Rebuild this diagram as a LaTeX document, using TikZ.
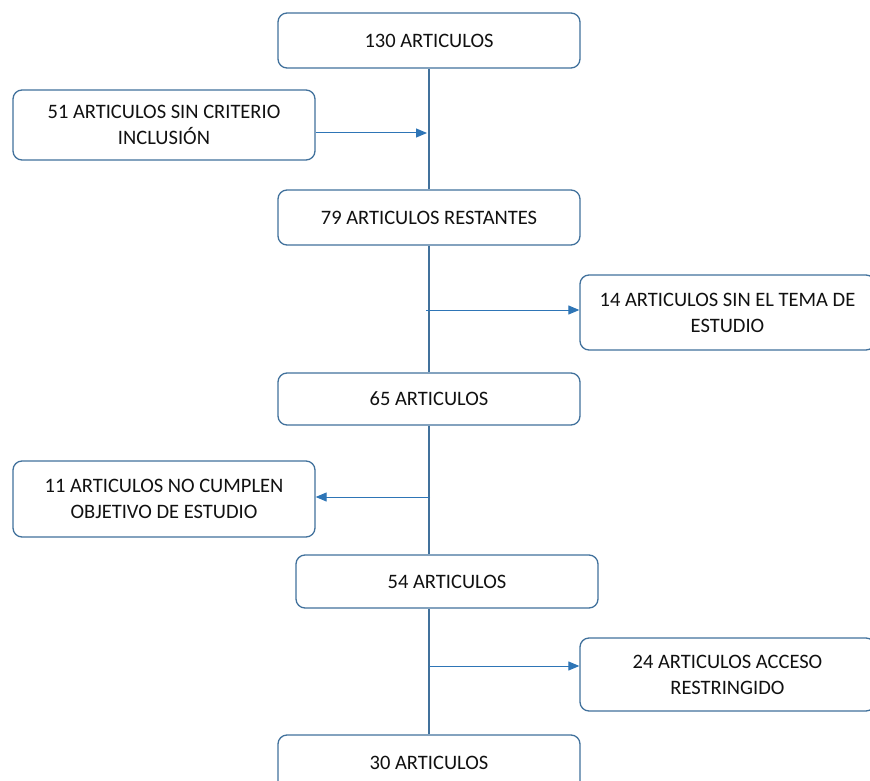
\documentclass[tikz,border=0pt]{standalone}
\usepackage{fontspec}
\setmainfont{Carlito}
\usetikzlibrary{arrows.meta}
\definecolor{bord}{HTML}{41719C}
\definecolor{arr}{HTML}{2E75B6}
\definecolor{txt}{HTML}{111111}
\begin{document}
\begin{tikzpicture}[x=1pt,y=-1pt,
  box/.style={draw=bord, line width=1.3pt, rounded corners=9pt, fill=white, align=center,
    text=txt, font=\fontsize{20.5}{26}\selectfont, inner sep=0pt, minimum width=302pt},
  conn/.style={draw=bord, line width=1.4pt},
  arrw/.style={draw=arr, line width=1pt, -{Triangle[length=11pt,width=9pt]}}]
\useasboundingbox (0,0) rectangle (870,781);
\node[box, minimum height=55pt] (b130) at (429,40.5) {130 ARTICULOS};
\node[box, minimum height=70pt] (b51) at (164,125) {51 ARTICULOS SIN CRITERIO\\INCLUSIÓN};
\node[box, minimum height=55pt] (b79) at (429,217.5) {79 ARTICULOS RESTANTES};
\node[box, minimum height=75pt, minimum width=295pt] (b14) at (727.5,312.5) {14 ARTICULOS SIN EL TEMA DE\\ESTUDIO};
\node[box, minimum height=52pt] (b65) at (429,399) {65 ARTICULOS};
\node[box, minimum height=76pt] (b11) at (164,499) {11 ARTICULOS NO CUMPLEN\\OBJETIVO DE ESTUDIO};
\node[box, minimum height=53pt] (b54) at (447,581.5) {54 ARTICULOS};
\node[box, minimum height=73pt, minimum width=295pt] (b24) at (727.5,674.5) {24 ARTICULOS ACCESO\\RESTRINGIDO};
\node[box, minimum height=55pt] (b30) at (429,762.5) {30 ARTICULOS};
\draw[conn] (b130.south) -- (b79.north);
\draw[conn] (b79.south) -- (b65.north);
\draw[conn] (b65.south) -- (b65.south |- b54.north);
\draw[conn] (b30.north |- b54.south) -- (b30.north);
\coordinate (j1) at (427,133);
\coordinate (j2) at (426,310);
\coordinate (j3) at (430,497);
\coordinate (j4) at (429,666);
\draw[arrw] (b51.east |- j1) -- (j1);
\draw[arrw] (j2) -- (b14.west |- j2);
\draw[arrw] (j3) -- (b11.east |- j3);
\draw[arrw] (j4) -- (b24.west |- j4);
\end{tikzpicture}
\end{document}
